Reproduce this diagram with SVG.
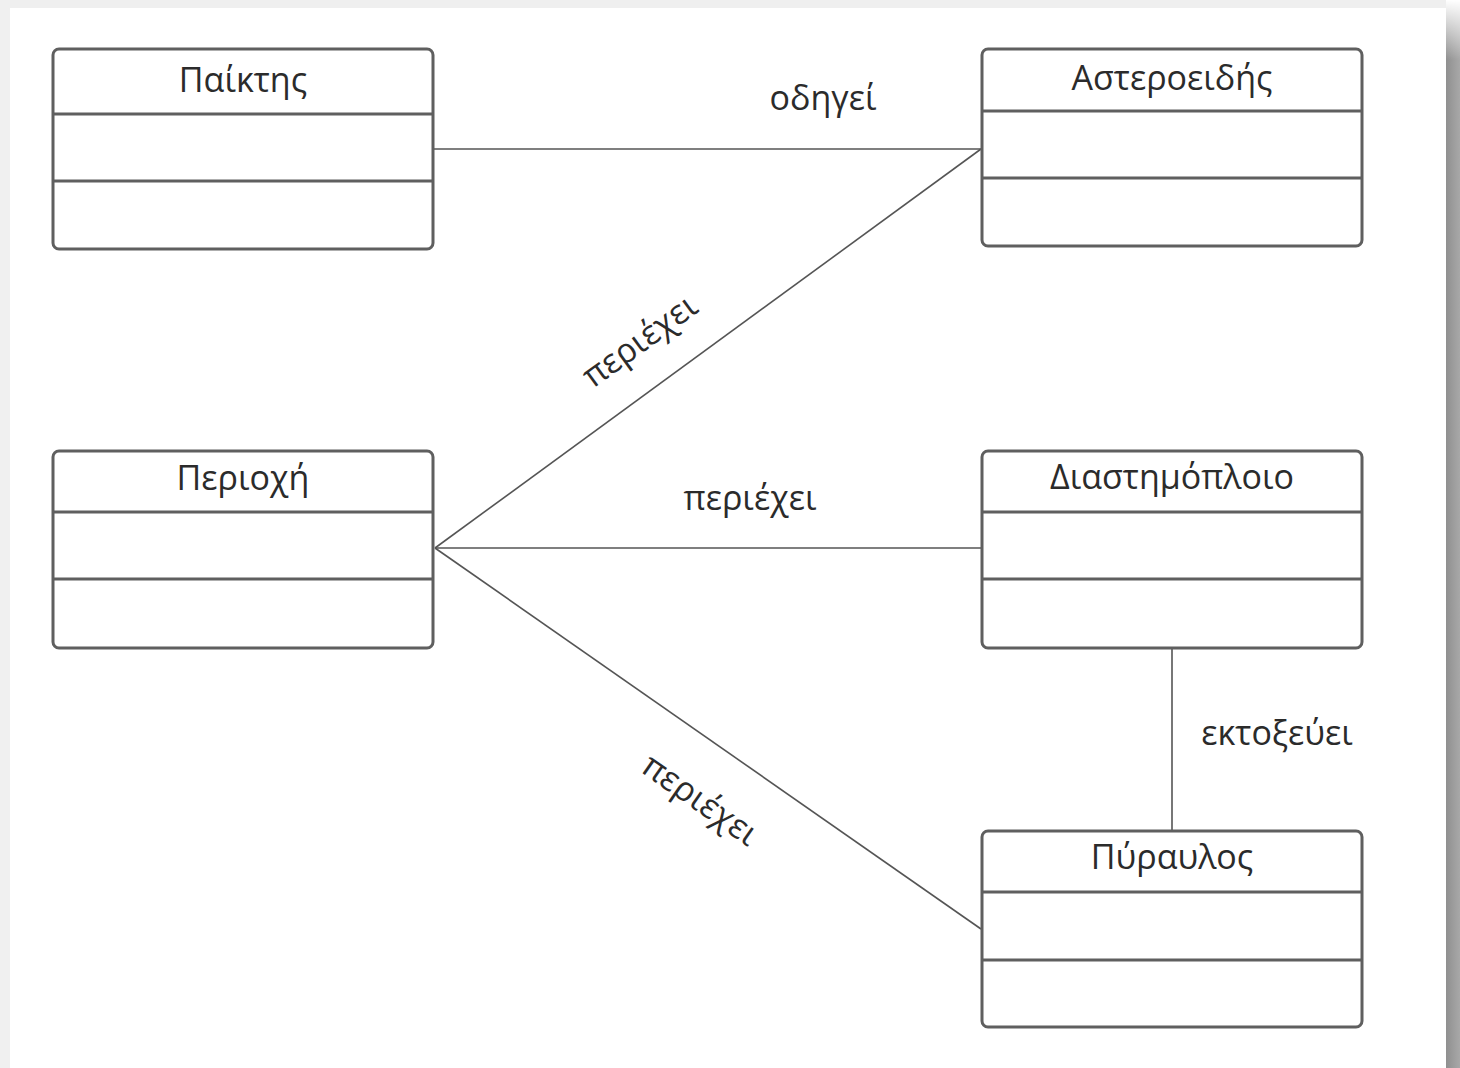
<svg xmlns="http://www.w3.org/2000/svg" width="1460" height="1068" viewBox="0 0 1460 1068">
<defs>
<linearGradient id="rshadow" x1="0" y1="0" x2="1" y2="0">
<stop offset="0" stop-color="#8f8f8f"/>
<stop offset="0.5" stop-color="#9c9c9c"/>
<stop offset="1" stop-color="#a8a8a8"/>
</linearGradient>
<linearGradient id="rtop" x1="0" y1="0" x2="0" y2="1">
<stop offset="0" stop-color="#ffffff" stop-opacity="1"/>
<stop offset="1" stop-color="#ffffff" stop-opacity="0"/>
</linearGradient>
</defs>
<style>
.box{fill:#ffffff;stroke:#5f5f5f;stroke-width:3}
.div{stroke:#5f5f5f;stroke-width:3}
.edge{stroke:#555555;stroke-width:1.6;fill:none}
.title{font-family:"Open Sans","Noto Sans",sans-serif;font-size:34px;fill:#2b2b2b;text-anchor:middle}
.lbl{font-family:"Open Sans","Noto Sans",sans-serif;font-size:34px;fill:#2b2b2b;text-anchor:middle}
</style>
<rect x="0" y="0" width="1460" height="1068" fill="#ffffff"/>
<rect x="0" y="0" width="1446" height="8" fill="#efefef"/>
<rect x="0" y="0" width="10" height="1068" fill="#f0f0f0"/>
<rect x="1446" y="0" width="14" height="1068" fill="url(#rshadow)"/>
<rect x="1446" y="0" width="14" height="60" fill="url(#rtop)"/>

<g id="connectors">
<line class="edge" x1="434" y1="149" x2="981" y2="149"/>
<line class="edge" x1="435" y1="548" x2="981" y2="149"/>
<line class="edge" x1="435" y1="548" x2="981" y2="548"/>
<line class="edge" x1="435" y1="548" x2="981" y2="929"/>
<line class="edge" x1="1172" y1="649" x2="1172" y2="830"/>
<text class="lbl" x="823" y="110">οδηγεί</text>
<text class="lbl" transform="translate(640,341) rotate(-36.1)" x="0" y="11">περιέχει</text>
<text class="lbl" x="750" y="510">περιέχει</text>
<text class="lbl" transform="translate(700,800) rotate(34.9)" x="0" y="11">περιέχει</text>
<text class="lbl" x="1277" y="745">εκτοξεύει</text>
</g>

<g id="node-paiktis">
<rect class="box" x="53" y="49" width="380" height="200" rx="6"/>
<line class="div" x1="53" y1="114" x2="433" y2="114"/>
<line class="div" x1="53" y1="181" x2="433" y2="181"/>
<text class="title" x="243" y="92">Παίκτης</text>
</g>

<g id="node-asteroeidis">
<rect class="box" x="982" y="49" width="380" height="197" rx="6"/>
<line class="div" x1="982" y1="111" x2="1362" y2="111"/>
<line class="div" x1="982" y1="178" x2="1362" y2="178"/>
<text class="title" x="1172" y="90">Αστεροειδής</text>
</g>

<g id="node-periochi">
<rect class="box" x="53" y="451" width="380" height="197" rx="6"/>
<line class="div" x1="53" y1="512" x2="433" y2="512"/>
<line class="div" x1="53" y1="579" x2="433" y2="579"/>
<text class="title" x="243" y="490">Περιοχή</text>
</g>

<g id="node-diastimoploio">
<rect class="box" x="982" y="451" width="380" height="197" rx="6"/>
<line class="div" x1="982" y1="512" x2="1362" y2="512"/>
<line class="div" x1="982" y1="579" x2="1362" y2="579"/>
<text class="title" x="1172" y="489">Διαστημόπλοιο</text>
</g>

<g id="node-pyravlos">
<rect class="box" x="982" y="831" width="380" height="196" rx="6"/>
<line class="div" x1="982" y1="892" x2="1362" y2="892"/>
<line class="div" x1="982" y1="960" x2="1362" y2="960"/>
<text class="title" x="1172" y="869">Πύραυλος</text>
</g>
</svg>
